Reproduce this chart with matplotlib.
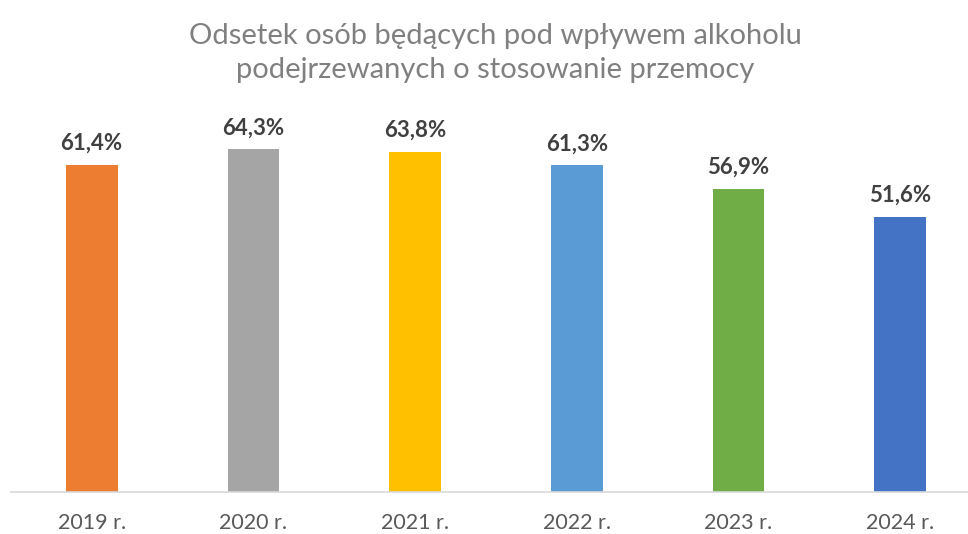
import matplotlib
matplotlib.use("Agg")
import matplotlib.pyplot as plt

# data
years  = ["2019 r.", "2020 r.", "2021 r.", "2022 r.", "2023 r.", "2024 r."]
values = [61.4, 64.3, 63.8, 61.3, 56.9, 51.6]
labels = ["61,4%", "64,3%", "63,8%", "61,3%", "56,9%", "51,6%"]
colors = ["#ED7D31", "#A5A5A5", "#FFC000", "#5B9BD5", "#70AD47", "#4472C4"]

plt.rcParams['font.family'] = ['Lato', 'DejaVu Sans']

fig = plt.figure(figsize=(9.68, 5.34), dpi=100)
# plot area: baseline at ~492 px, categories ~161.7 px wide starting at ~11 px
ax = fig.add_axes([10.8 / 968, (534 - 492) / 534, 970.4 / 968, 373 / 534])

x = list(range(len(years)))
bars = ax.bar(x, values, width=0.32, color=colors, zorder=2)

for rect, text in zip(bars, labels):
    ax.annotate(text, (rect.get_x() + rect.get_width() / 2, rect.get_height()),
                xytext=(0, 8), textcoords="offset points",
                ha="center", va="bottom", fontsize=16, fontweight="bold",
                color="#404040")

ax.set_xlim(-0.5, len(years) - 0.5)
ax.set_ylim(0, 70)
ax.set_xticks(x)
ax.set_xticklabels(years, fontsize=15.5, color="#595959")
ax.tick_params(axis="x", length=0, pad=15)
ax.set_yticks([])

for side in ["top", "right", "left"]:
    ax.spines[side].set_visible(False)
ax.spines["bottom"].set_color("#D9D9D9")
ax.spines["bottom"].set_linewidth(1.2)

fig.text(0.512, 1 - 53 / 534,
         "Odsetek osób będących pod wpływem alkoholu\npodejrzewanych o stosowanie przemocy",
         ha="center", va="center", fontsize=21, color="#808080", linespacing=1.4)

fig.savefig("out.png", dpi=100)
plt.close(fig)
